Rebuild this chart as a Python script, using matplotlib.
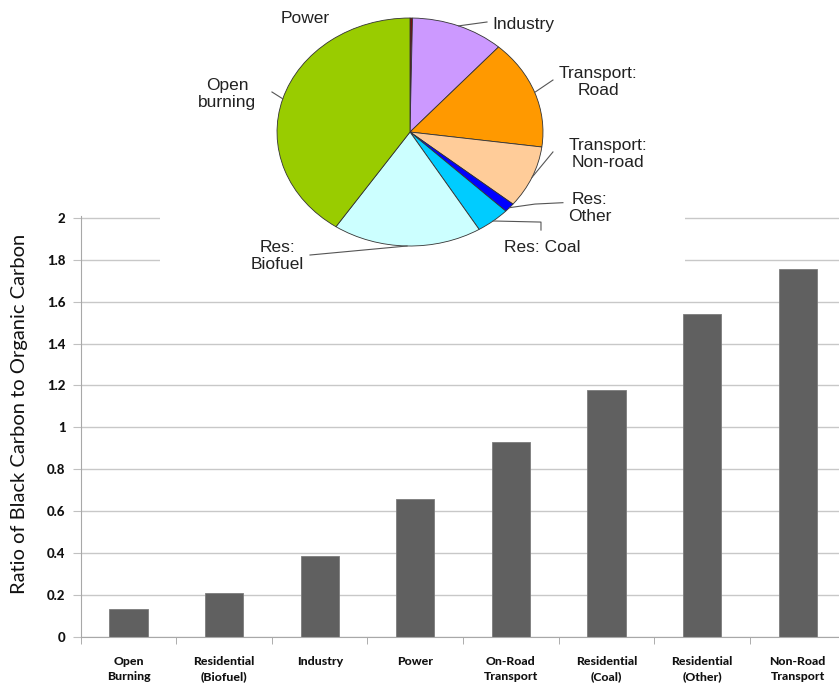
import numpy as np
import matplotlib.pyplot as plt

# black carbon / organic carbon ratio by emission sector
sectors = ['Open\nBurning', 'Residential\n(Biofuel)', 'Industry', 'Power',
           'On-Road\nTransport', 'Residential\n(Coal)', 'Residential\n(Other)',
           'Non-Road\nTransport']
bc_oc_ratio = [0.13, 0.21, 0.385, 0.66, 0.93, 1.18, 1.54, 1.755]

# share of black carbon emissions (%) for the inset pie
pie_labels = ['Power', 'Industry', 'Transport:\nRoad', 'Transport:\nNon-road',
              'Res:\nOther', 'Res: Coal', 'Res:\nBiofuel', 'Open\nburning']
pie_shares = [0.3, 11.3, 15.5, 8.8, 1.3, 4.1, 18.1, 40.6]
pie_colors = ['#7a1010', '#cc99ff', '#ff9900', '#ffcc99', '#0000ff',
              '#00ccff', '#ccffff', '#99cc00']

tick_font = ['Lato', 'DejaVu Sans']
pie_font = ['Liberation Sans', 'DejaVu Sans']

fig = plt.figure(figsize=(8.39, 6.87), dpi=100)
ax = fig.add_axes([0.0962, 0.0732, 0.9115, 0.6125])

x = np.arange(len(sectors))
ax.bar(x, bc_oc_ratio, width=0.4, color='#606060', edgecolor='#7c7c7c',
       linewidth=0.6, zorder=2)
ax.set_xlim(-0.5, len(sectors) - 0.5)
ax.set_ylim(0, 2.01)

yt = np.round(np.arange(0, 2.01, 0.2), 1)
ax.set_yticks(yt)
ax.set_yticklabels(['%g' % v for v in yt], family=tick_font,
                   fontweight='black', fontsize=9.5, color='#111111')
ax.yaxis.grid(True, color='#c8c8c8', linewidth=1)
ax.set_axisbelow(True)

ax.set_xticks(x)
ax.set_xticklabels(sectors, family=tick_font, fontweight='black',
                   fontsize=8.8, linespacing=1.4, color='#111111')
ax.set_xticks(np.arange(-0.5, len(sectors), 1), minor=True)
ax.tick_params(axis='x', which='major', length=0, pad=14)
ax.tick_params(axis='x', which='minor', length=5, color='#a0a0a0')
ax.tick_params(axis='y', length=6, color='#c0c0c0', pad=5)

for s in ['top', 'right']:
    ax.spines[s].set_visible(False)
for s in ['left', 'bottom']:
    ax.spines[s].set_color('#a8a8a8')

fig.text(20 / 839, 1 - 414 / 687, 'Ratio of Black Carbon to Organic Carbon',
         rotation=90, ha='center', va='center', fontsize=14.5,
         family=['Lato', 'DejaVu Sans'], color='#111111')

# inset pie on a white panel over the upper gridlines
pax = fig.add_axes([160 / 839, 1 - 285 / 687, 525 / 839, 285 / 687])
pax.set_facecolor('white')
wedges, _ = pax.pie(pie_shares, colors=pie_colors, startangle=90,
                    counterclock=False, frame=True,
                    wedgeprops=dict(edgecolor='#333333', linewidth=0.6))
pax.set_aspect('auto')
pax.set_xlim(-1.880, 2.068)
pax.set_ylim(-1.342, 1.158)
pax.set_xticks([])
pax.set_yticks([])
for s in pax.spines.values():
    s.set_visible(False)

label_pos = [(-0.789, 1.0), (0.617, 0.947), (1.414, 0.439), (1.489, -0.193),
             (1.353, -0.667), (0.992, -1.009), (-1.0, -1.088), (-1.376, 0.333)]
label_ha = ['center', 'left', 'center', 'center', 'center', 'center',
            'center', 'center']
leaders = [[], [(0.579, 0.965)], [(1.075, 0.456)], [(1.075, -0.175)],
           [(0.94, -0.632), (1.15, -0.62)], [(0.985, -0.79), (0.985, -0.86)],
           [(-0.752, -1.079)], [(-1.038, 0.351)]]

for w, lab, pos, ha, path in zip(wedges, pie_labels, label_pos, label_ha, leaders):
    if path:
        mid = np.deg2rad((w.theta1 + w.theta2) / 2)
        pts = [(np.cos(mid), np.sin(mid))] + path
        px, py = zip(*pts)
        pax.plot(px, py, color='#555555', linewidth=0.8)
    pax.text(pos[0], pos[1], lab, ha=ha, va='center', fontsize=12.5,
             family=pie_font, color='#222222', linespacing=1.2)

fig.savefig('out.png', dpi=100)
